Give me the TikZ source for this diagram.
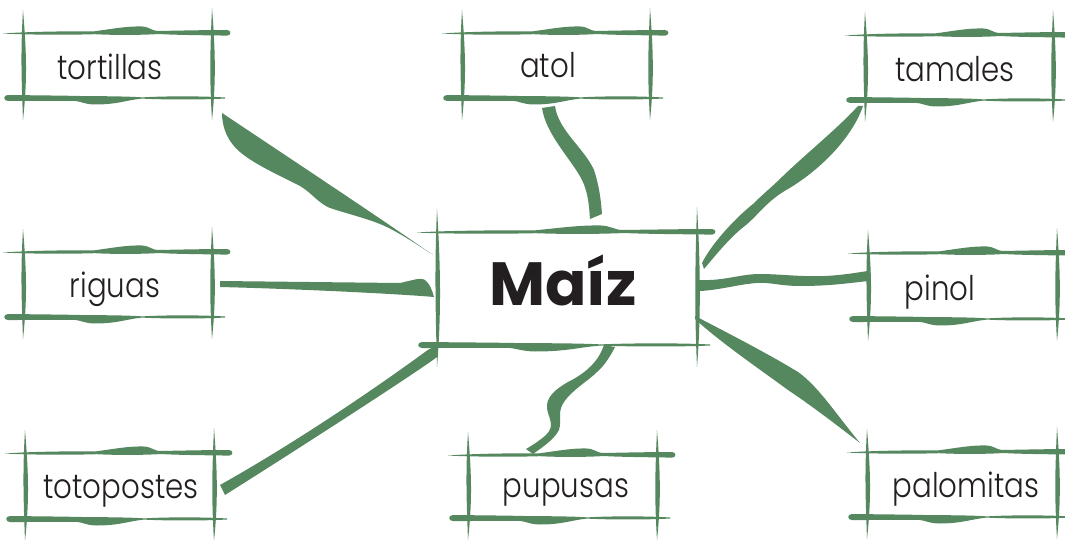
\documentclass[tikz,border=0pt]{standalone}
\usepackage{fontspec}
\newfontfamily\labelfont{Poppins Light}[FakeStretch=0.86]
\newfontfamily\titlefont{Poppins}
\definecolor{brushgreen}{RGB}{85,136,94}
\definecolor{inkblack}{RGB}{35,31,32}
\tikzset{
  brush/.style={fill=brushgreen},
  lbl/.style={anchor=base,inner sep=0pt,text=inkblack,font=\labelfont\fontsize{34}{34}\selectfont},
  ttl/.style={anchor=base,inner sep=0pt,text=inkblack,font=\titlefont\bfseries\fontsize{61}{61}\selectfont},
  pics/frame/.style 2 args={code={
    % top stroke
    \fill[brush] (-20,0.5) .. controls (0,-1) and ({0.2*#1},-2) .. ({0.37*#1},-1.5)
      .. controls ({0.47*#1},-4) and ({0.55*#1},-7) .. ({0.63*#1},-6.5)
      .. controls ({0.67*#1},-6) and ({0.68*#1},-2.5) .. ({0.71*#1},-2)
      .. controls ({0.85*#1},-2.5) and ({0.98*#1},-3) .. ({#1+15},-3)
      .. controls ({#1+19.5},-3) and ({#1+19.5},2.6) .. ({#1+15},2.6)
      .. controls ({0.95*#1},2.2) and ({0.8*#1},2) .. ({0.72*#1},1)
      .. controls ({0.62*#1},2.2) and ({0.48*#1},2.2) .. ({0.38*#1},1.2)
      .. controls ({0.25*#1},2) and (0,1.8) .. (-20,0.5) -- cycle;
    % bottom stroke
    \begin{scope}[shift={(0,#2)}]
    \fill[brush] (-15,3) .. controls (-20,3) and (-20,-3) .. (-15,-3)
      .. controls ({0.1*#1},-2.6) and ({0.22*#1},-2.4) .. ({0.3*#1},-2)
      .. controls ({0.4*#1},-1.8) and ({0.55*#1},-1.8) .. ({0.63*#1},-0.6)
      .. controls ({0.75*#1},-2) and ({0.95*#1},-2) .. ({#1+13},-0.5)
      -- ({#1+13},0.5)
      .. controls ({0.95*#1},1.8) and ({0.75*#1},1.8) .. ({0.63*#1},0.6)
      .. controls ({0.55*#1},2) and ({0.5*#1},6.5) .. ({0.38*#1},6.5)
      .. controls ({0.33*#1},6.5) and ({0.3*#1},3) .. ({0.27*#1},2.8)
      .. controls ({0.15*#1},3) and (0,3) .. (-15,3) -- cycle;
    \end{scope}
    % left vertical
    \fill[brush] (0,-23) .. controls (3.5,{0.3*#2}) and (4.5,{0.7*#2}) .. (0,{#2+22})
      .. controls (-1.5,{0.7*#2}) and (-2.5,{0.3*#2}) .. (0,-23) -- cycle;
    % right vertical
    \fill[brush] (#1,-25) .. controls ({#1+3.5},{0.3*#2}) and ({#1+4},{0.75*#2}) .. (#1,{#2+22})
      .. controls ({#1-2.5},{0.7*#2}) and ({#1-2},{0.3*#2}) .. (#1,-25) -- cycle;
  }}
}
\begin{document}
\begin{tikzpicture}[x=1pt,y=-1pt]
\useasboundingbox[fill=white] (0,0) rectangle (1065,540);

% frames
\pic at (23,33) {frame={189}{65}};
\pic at (462,33) {frame={188}{65}};
\pic at (865,35) {frame={188}{65}};
\pic at (23,252) {frame={189}{65}};
\pic at (868,253) {frame={189}{66}};
\pic at (25,453) {frame={189}{66}};
\pic at (468,455) {frame={189}{63}};
\pic at (867,452) {frame={190}{65}};
\pic at (437,232) {frame={260}{113}};

% labels
\node[ttl] (maiz) at (563,305) {Maíz};
\node[lbl] (tortillas) at (110,80) {tortillas};
\node[lbl] (atol) at (548,78) {atol};
\node[lbl] (tamales) at (955,82) {tamales};
\node[lbl] (riguas) at (115,297) {riguas};
\node[lbl] (pinol) at (940,300) {pinol};
\node[lbl] (totopostes) at (121,498) {totopostes};
\node[lbl] (pupusas) at (566,497) {pupusas};
\node[lbl] (palomitas) at (966,497) {palomitas};

% connectors (brush strokes)
% tortillas
\fill[brush] (222,113) .. controls (300,165) and (380,218) .. (433,255)
  .. controls (415,243) and (395,230) .. (380,224) .. controls (365,218) and (345,213) .. (330,208)
  .. controls (318,203) and (312,193) .. (300,186) .. controls (285,178) and (255,165) .. (240,152)
  .. controls (228,142) and (222,128) .. (222,113) -- cycle;
% riguas
\fill[brush] (220,281) -- (400,283) .. controls (410,281) and (420,277) .. (425,280)
  .. controls (430,284) and (432,290) .. (434,297) .. controls (400,294) and (300,289) .. (220,287) -- cycle;
% totopostes
\fill[brush] (220,485) .. controls (300,440) and (380,385) .. (425,352)
  .. controls (430,348) and (435,346) .. (438,348) -- (437,357)
  .. controls (420,370) and (320,435) .. (225,495) -- cycle;
% atol
\fill[brush] (542,108) .. controls (546,135) and (572,160) .. (582,180)
  .. controls (588,192) and (589,205) .. (590,219) -- (602,214)
  .. controls (601,200) and (599,185) .. (594,170) .. controls (584,148) and (558,130) .. (555,106) -- cycle;
% pupusas
\fill[brush] (604,345) .. controls (599,360) and (588,372) .. (568,382)
  .. controls (554,390) and (546,398) .. (547,408) .. controls (548,418) and (556,425) .. (546,435)
  .. controls (538,442) and (531,446) .. (526,449) -- (533,454)
  .. controls (541,448) and (554,440) .. (559,430) .. controls (562,420) and (557,412) .. (564,402)
  .. controls (572,390) and (588,381) .. (597,372) .. controls (605,365) and (611,355) .. (615,347) -- cycle;
% tamales
\fill[brush] (858,106) .. controls (838,128) and (808,152) .. (783,176)
  .. controls (773,186) and (763,194) .. (753,204) .. controls (733,220) and (711,245) .. (702,263)
  -- (704,269) .. controls (715,256) and (730,237) .. (746,225)
  .. controls (759,214) and (768,200) .. (788,189) .. controls (820,170) and (852,138) .. (863,106) -- cycle;
% pinol
\fill[brush] (700,280) .. controls (725,281) and (740,274) .. (760,274)
  .. controls (780,274) and (800,277) .. (825,276) .. controls (845,275) and (860,272) .. (868,271)
  -- (868,281) .. controls (850,283) and (830,286) .. (800,286)
  .. controls (780,286) and (770,282) .. (757,283) .. controls (740,284) and (720,290) .. (700,291) -- cycle;
% palomitas
\fill[brush] (695,316) .. controls (730,334) and (772,356) .. (798,372)
  .. controls (818,386) and (836,414) .. (860,443)
  .. controls (838,426) and (812,406) .. (788,390) .. controls (758,368) and (720,342) .. (695,319) -- cycle;
\end{tikzpicture}
\end{document}
